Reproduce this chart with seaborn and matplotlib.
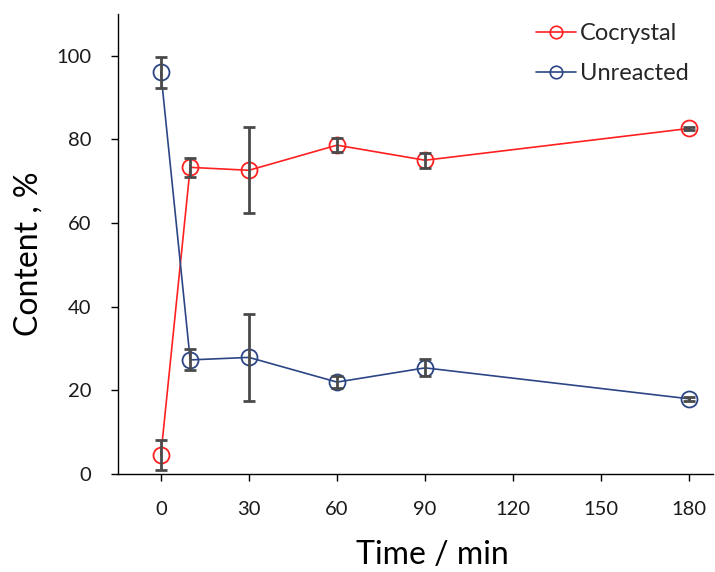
import matplotlib
matplotlib.use("Agg")
import matplotlib.pyplot as plt
from matplotlib.lines import Line2D
import seaborn as sns
import pandas as pd

time_min = [0, 10, 30, 60, 90, 180]
cocrystal = [4.5, 73.3, 72.6, 78.6, 75.0, 82.6]
cocrystal_err = [3.6, 2.3, 10.3, 1.6, 1.8, 0.4]
unreacted = [96.0, 27.3, 27.9, 22.0, 25.4, 18.0]
unreacted_err = [3.7, 2.5, 10.4, 1.5, 2.0, 0.4]
x_ticks = [0, 30, 60, 90, 120, 150, 180]
y_ticks = [0, 20, 40, 60, 80, 100]

sns.set_style("ticks")
plt.rcParams['font.family'] = ['Lato', 'DejaVu Sans']

RED = "#ff2020"
BLUE = "#2b4585"
ERR = "#4a4a4a"

fig = plt.figure(figsize=(7.15, 5.72), dpi=100)
ax = fig.add_axes([0.165, 0.171, 0.832, 0.805])

series = [("Cocrystal", cocrystal, cocrystal_err, RED),
          ("Unreacted", unreacted, unreacted_err, BLUE)]
handles = []
for name, vals, errs, col in series:
    df = pd.DataFrame({"t": time_min, "v": vals})
    sns.lineplot(data=df, x="t", y="v", ax=ax, color=col, lw=1.2,
                 marker="o", markersize=11.5, markerfacecolor="none",
                 markeredgecolor=col, markeredgewidth=1.3, zorder=3)
    ax.errorbar(time_min, vals, yerr=errs, fmt="none", ecolor=ERR,
                elinewidth=2, capsize=4, capthick=2, zorder=4)
    handles.append(Line2D([0], [0], color=col, lw=1.2, marker="o",
                          markersize=9, markerfacecolor="none",
                          markeredgecolor=col, markeredgewidth=1.2))

ax.set_xlim(-14.6, 188)
ax.set_ylim(0, 110)
ax.set_xticks(x_ticks)
ax.set_yticks(y_ticks)
ax.tick_params(axis="both", labelsize=14.5, length=5, width=1, color="black",
               labelcolor="#1a1a1a", direction="out")
ax.tick_params(axis="x", pad=14)
ax.tick_params(axis="y", pad=14)
ax.set_xlabel("Time / min", fontsize=23, color="black")
ax.set_ylabel("Content , %", fontsize=23, color="black")
ax.xaxis.set_label_coords(0.528, -0.143)
ax.yaxis.set_label_coords(-0.125, 0.478)
for s in ["top", "right"]:
    ax.spines[s].set_visible(False)
for s in ["left", "bottom"]:
    ax.spines[s].set_color("black")
    ax.spines[s].set_linewidth(1)

ax.legend(handles, ["Cocrystal", "Unreacted"], loc="upper right",
          bbox_to_anchor=(0.995, 1.025), frameon=False, fontsize=17,
          handlelength=1.7, handletextpad=0.15, labelspacing=0.8)

fig.savefig("out.png", dpi=100)
